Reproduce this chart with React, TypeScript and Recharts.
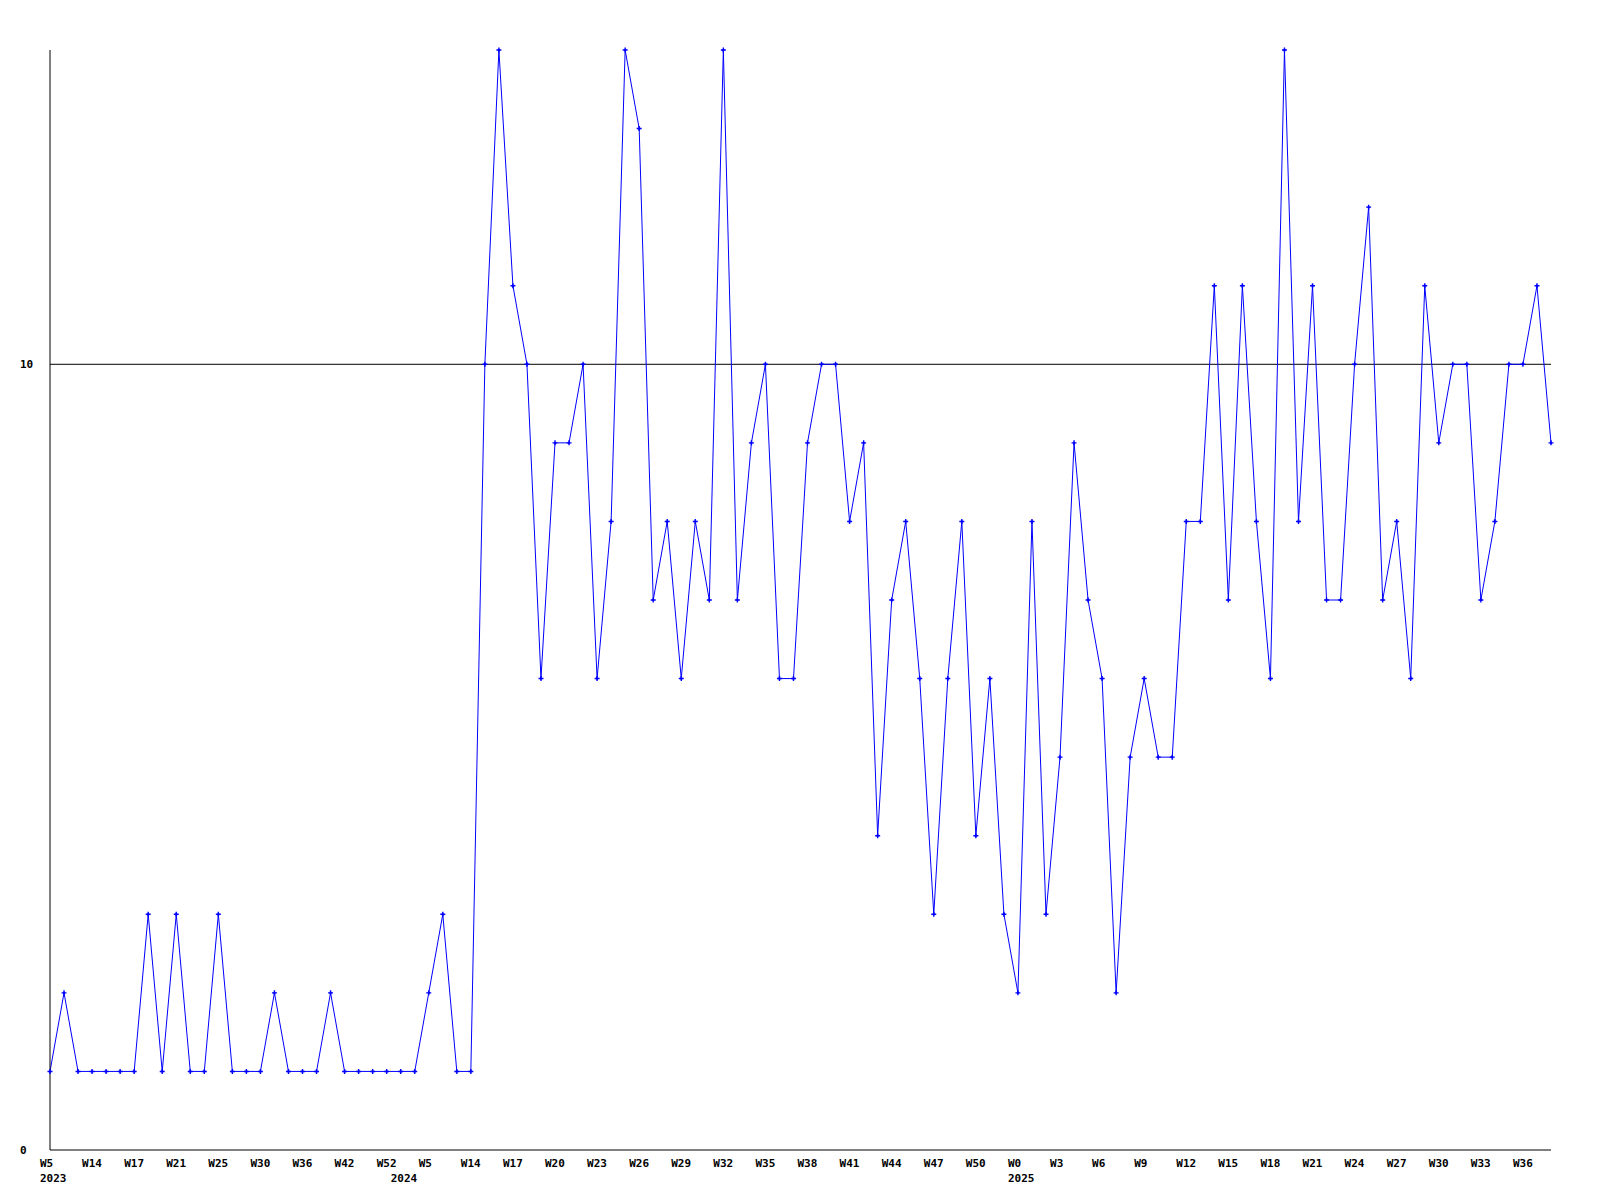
import { LineChart, Line, XAxis, YAxis, ReferenceLine } from "recharts";

// week numbers per year, in the order the samples were taken
const WEEKS_2023 = [5, 8, 11, 14, 15, 16, 17, 18, 20, 21, 22, 24, 25, 26, 28, 30, 32, 34, 36, 38, 40, 42, 45, 48, 52];
const WEEKS_2024 = [
  1, 3, 5, 8, 11, 14, 15, 16, 17, 18, 19, 20, 21, 22, 23, 24, 25, 26, 27, 28, 29, 30,
  31, 32, 33, 34, 35, 36, 37, 38, 39, 40, 41, 42, 43, 44, 45, 46, 47, 48, 49, 50, 51, 52,
];
const WEEKS_2025 = [
  0, 1, 2, 3, 4, 5, 6, 7, 8, 9, 10, 11, 12, 13, 14, 15, 16, 17, 18, 19, 20, 21, 22, 23,
  24, 25, 26, 27, 28, 29, 30, 31, 32, 33, 34, 35, 36, 37, 38,
];

const COUNTS = [
  1, 2, 1, 1, 1, 1, 1, 3, 1, 3, 1, 1, 3, 1, 1, 1, 2, 1, 1, 1, 2, 1, 1, 1, 1, 1, 1, 2, 3, 1, 1,
  10, 14, 11, 10, 6, 9, 9, 10, 6, 8, 14, 13, 7, 8, 6, 8, 7, 14, 7, 9, 10, 6, 6, 9, 10, 10, 8,
  9, 4, 7, 8, 6, 3, 6, 8, 4, 6, 3, 2, 8, 3, 5, 9, 7, 6, 2, 5, 6, 5, 5,
  8, 8, 11, 7, 11, 8, 6, 14, 8, 11, 7, 7, 10, 12, 7, 8, 6, 11, 9, 10, 10, 7, 8, 10, 10, 11, 9,
];

const Y_TICKS = [0, 10];
const LABEL_EVERY = 3;

const periods = [
  ...WEEKS_2023.map((w) => ({ year: "2023", week: w })),
  ...WEEKS_2024.map((w) => ({ year: "2024", week: w })),
  ...WEEKS_2025.map((w) => ({ year: "2025", week: w })),
];

const data = periods.map((p, i) => ({
  key: `${p.year}-W${p.week}`,
  year: p.year,
  week: `W${p.week}`,
  count: COUNTS[i],
}));

const indexOf: Record<string, number> = {};
data.forEach((d, i) => {
  indexOf[d.key] = i;
});

const FONT = "'DejaVu Sans Mono', monospace";

function WeekTick(props: any) {
  const { x, y, payload } = props;
  const i = indexOf[payload.value];
  const row = data[i];
  if (!row) return null;
  const showWeek = i % LABEL_EVERY === 0;
  const showYear = i === 0 || data[i - 1].year !== row.year;
  return (
    <g>
      {showWeek && (
        <text x={x - 10} y={y + 9} fontFamily={FONT} fontSize={11} fontWeight="bold" fill="#000">
          {row.week}
        </text>
      )}
      {showYear && (
        <text x={x - 10} y={y + 24} fontFamily={FONT} fontSize={11} fontWeight="bold" fill="#000">
          {row.year}
        </text>
      )}
    </g>
  );
}

function CountTick(props: any) {
  const { y, payload } = props;
  return (
    <text x={20} y={y + 4} fontFamily={FONT} fontSize={11} fontWeight="bold" fill="#000">
      {payload.value}
    </text>
  );
}

function PlusDot(props: any) {
  const { cx, cy } = props;
  if (cx == null || cy == null) return null;
  return (
    <g>
      <path d={`M${cx - 2.5},${cy} h5 M${cx},${cy - 2.5} v5`} stroke="#0000ff" strokeWidth={1.4} />
      <rect x={cx - 1} y={cy - 1} width={2} height={2} fill="#0000ff" />
    </g>
  );
}

export default function App() {
  return (
    <div style={{ position: "absolute", left: 0, top: 0, width: 1600, height: 1200, background: "#fff" }}>
      <LineChart width={1600} height={1200} data={data} margin={{ top: 50, right: 49, bottom: 0, left: 0 }}>
        <XAxis
          dataKey="key"
          interval={0}
          tick={<WeekTick />}
          tickLine={false}
          axisLine={{ stroke: "#000" }}
          height={50}
        />
        <YAxis
          domain={[0, 14]}
          ticks={Y_TICKS}
          tick={<CountTick />}
          tickLine={false}
          axisLine={{ stroke: "#000" }}
          width={50}
        />
        <ReferenceLine y={10} stroke="#000" strokeWidth={1} />
        <Line
          type="linear"
          dataKey="count"
          stroke="#0000ff"
          strokeWidth={1}
          dot={<PlusDot />}
          activeDot={false}
          isAnimationActive={false}
        />
      </LineChart>
    </div>
  );
}
